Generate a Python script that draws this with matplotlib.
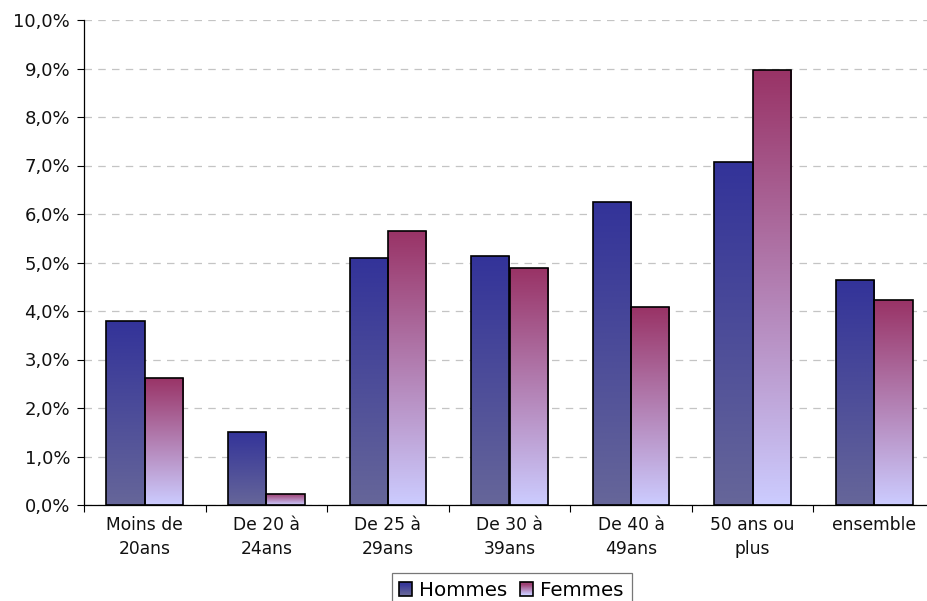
import numpy as np
import matplotlib
matplotlib.use("Agg")
import matplotlib.pyplot as plt
from matplotlib.colors import LinearSegmentedColormap
from matplotlib.patches import Rectangle
from matplotlib.legend_handler import HandlerBase
from matplotlib.ticker import FuncFormatter, FixedLocator, MultipleLocator

categories = ["Moins de\n20ans", "De 20 à\n24ans", "De 25 à\n29ans", "De 30 à\n39ans",
              "De 40 à\n49ans", "50 ans ou\nplus", "ensemble"]
hommes = [3.80, 1.51, 5.09, 5.13, 6.24, 7.07, 4.64]
femmes = [2.62, 0.23, 5.65, 4.88, 4.08, 8.97, 4.22]
series_names = ["Hommes", "Femmes"]

# dégradés haut -> bas
cmap_h = LinearSegmentedColormap.from_list("h", ["#666699", "#333399"])
cmap_f = LinearSegmentedColormap.from_list("f", ["#CCCCFF", "#993366"])

fig = plt.figure(figsize=(9.27, 6.01), dpi=100)
ax = fig.add_axes([84/927, 96/601, 851/927, 485/601])

x = np.arange(len(categories))
w = 0.315
grad = np.linspace(0, 1, 256).reshape(-1, 1)

def gradient_bars(vals, offset, cmap):
    bars = ax.bar(x + offset, vals, w, facecolor="none", edgecolor="black",
                  linewidth=1.2, zorder=3)
    for b in bars:
        x0, y0 = b.get_x(), b.get_y()
        im = ax.imshow(grad, cmap=cmap, origin="lower", aspect="auto",
                       extent=(x0, x0 + b.get_width(), y0, y0 + b.get_height()),
                       zorder=2, interpolation="bilinear")
        im.set_clip_path(b)
    return bars

gradient_bars(hommes, -w/2, cmap_h)
gradient_bars(femmes, w/2, cmap_f)

ax.set_xlim(-0.5, len(categories) - 0.5)
ax.set_ylim(0, 10)
ax.yaxis.set_major_locator(MultipleLocator(1))
ax.yaxis.set_major_formatter(FuncFormatter(lambda v, p: f"{v:.1f}%".replace(".", ",")))
ax.grid(axis="y", color="#c4c4c4", linestyle=(0, (6, 5)), linewidth=0.9, zorder=0)
ax.set_axisbelow(True)

for s in ["top", "right"]:
    ax.spines[s].set_visible(False)
ax.spines["left"].set_linewidth(0.9)
ax.spines["bottom"].set_linewidth(0.9)

ax.xaxis.set_major_locator(FixedLocator(np.arange(len(categories) + 1) - 0.5))
ax.xaxis.set_minor_locator(FixedLocator(x))
ax.set_xticklabels([])
ax.set_xticklabels(categories, minor=True, family="DejaVu Sans", fontsize=12.3,
                   color="#111111", linespacing=1.45)
ax.tick_params(axis="x", which="major", length=5, width=0.8, direction="out")
ax.tick_params(axis="x", which="minor", length=0, pad=8)
ax.tick_params(axis="y", length=5, width=0.8, labelsize=13, pad=5)
for lab in ax.get_yticklabels():
    lab.set_color("#111111")


class GradientHandler(HandlerBase):
    def __init__(self, cmap):
        super().__init__()
        self.cmap = cmap

    def create_artists(self, legend, orig_handle, xdescent, ydescent, width, height,
                       fontsize, trans):
        s = height
        x0 = xdescent + width - s - 1
        arts = []
        n = 12
        for i in range(n):
            r = Rectangle((x0, -ydescent + s * i / n), s, s / n,
                          facecolor=self.cmap(i / (n - 1)), edgecolor="none", transform=trans)
            arts.append(r)
        arts.append(Rectangle((x0, -ydescent), s, s, facecolor="none",
                              edgecolor="black", linewidth=1.2, transform=trans))
        return arts


h1 = Rectangle((0, 0), 1, 1)
h2 = Rectangle((0, 0), 1, 1)
leg = fig.legend([h1, h2], series_names, loc="upper center",
                 bbox_to_anchor=(512/927, 1 - 573/601),
                 ncol=2, frameon=True, fancybox=False, edgecolor="#555555",
                 prop={"family": "DejaVu Sans", "size": 14.3}, handlelength=0.65,
                 handleheight=0.65, handletextpad=0.3, columnspacing=0.7,
                 borderpad=0.4, borderaxespad=0,
                 handler_map={h1: GradientHandler(cmap_h), h2: GradientHandler(cmap_f)})
leg.get_frame().set_linewidth(0.9)

fig.savefig("out.png", dpi=100)
